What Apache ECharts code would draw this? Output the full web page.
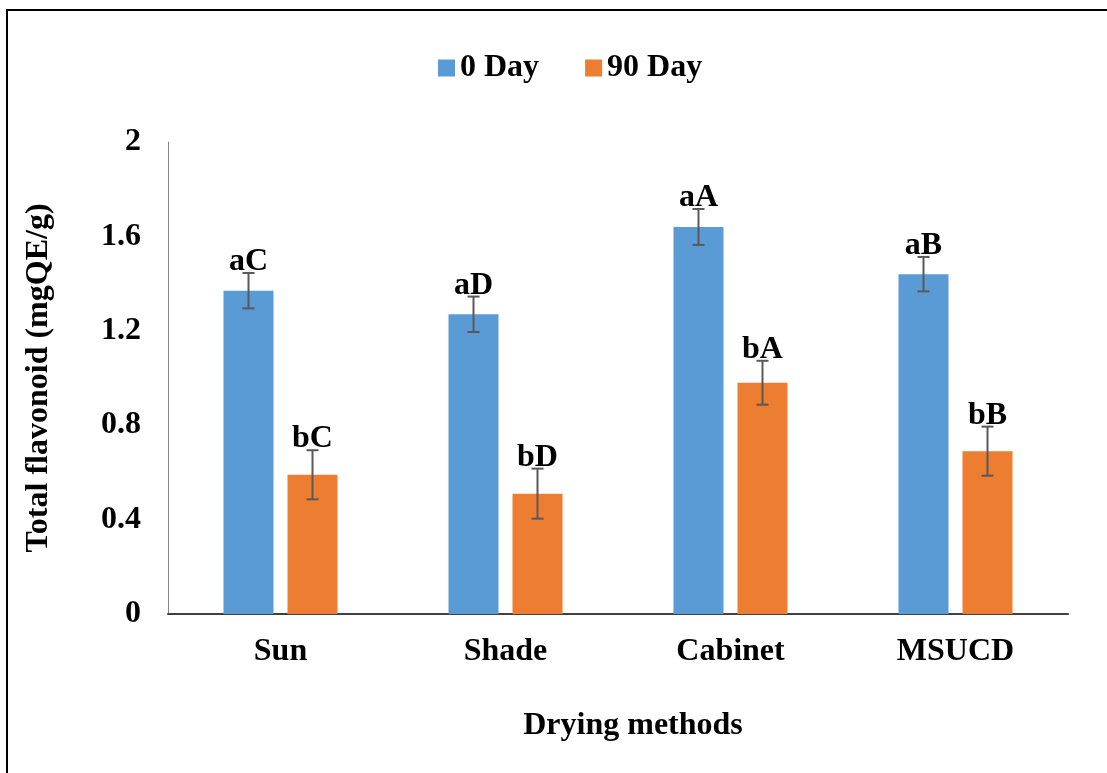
<!DOCTYPE html>
<html>
<head>
<meta charset="utf-8">
<script src="https://cdn.jsdelivr.net/npm/echarts@6/dist/echarts.min.js"></script>
<style>html,body{margin:0;padding:0;background:#fff;}#c{width:1107px;height:773px;}</style>
</head>
<body>
<div id="c"></div>
<script>
const categories = ['Sun', 'Shade', 'Cabinet', 'MSUCD'];
const seriesNames = ['0 Day', '90 Day'];
const day0 = [1.37, 1.27, 1.64, 1.44];
const day90 = [0.59, 0.51, 0.98, 0.69];
const err0 = [0.075, 0.075, 0.076, 0.073];
const err90 = [0.104, 0.106, 0.093, 0.104];
const letters0 = ['aC', 'aD', 'aA', 'aB'];
const letters90 = ['bC', 'bD', 'bA', 'bB'];

const FONT = '"Liberation Serif", "Times New Roman", serif';
const FS = 32;
const BAR_W = 50;
const GAP = 14;
const colors = ['#5B9BD5', '#ED7D31'];

function errSeries(vals, errs, letters, offset) {
  return {
    type: 'custom',
    z: 10,
    silent: true,
    data: vals.map((v, i) => [i, v, errs[i]]),
    renderItem: function (params, api) {
      const i = api.value(0), v = api.value(1), e = api.value(2);
      const top = api.coord([i, v + e]);
      const bot = api.coord([i, v - e]);
      const x = top[0] + offset;
      const cap = 6;
      const ls = { stroke: '#595959', lineWidth: 2 };
      return {
        type: 'group',
        children: [
          { type: 'line', shape: { x1: x, y1: top[1], x2: x, y2: bot[1] }, style: ls },
          { type: 'line', shape: { x1: x - cap, y1: top[1], x2: x + cap, y2: top[1] }, style: ls },
          { type: 'line', shape: { x1: x - cap, y1: bot[1], x2: x + cap, y2: bot[1] }, style: ls },
          { type: 'text', style: { text: letters[params.dataIndex], x: x, y: top[1] + 5, align: 'center', verticalAlign: 'bottom', font: 'bold ' + FS + 'px ' + FONT, fill: '#000' } }
        ]
      };
    }
  };
}

const txt = { fontFamily: FONT, fontWeight: 'bold', fontSize: FS, color: '#000' };

const chart = echarts.init(document.getElementById('c'));
chart.setOption({
  animation: false,
  backgroundColor: '#fff',
  graphic: [{
    type: 'rect', shape: { x: 7, y: 10, width: 1300, height: 900 },
    style: { fill: 'none', stroke: '#000', lineWidth: 2 }, z: 100
  }],
  legend: {
    data: seriesNames,
    top: 47,
    left: 433,
    itemWidth: 17, itemHeight: 17, itemGap: 46,
    icon: 'rect',
    textStyle: txt
  },
  grid: { left: 168, right: 39, top: 142, bottom: 159 },
  xAxis: {
    type: 'category',
    data: categories,
    axisLine: { lineStyle: { color: '#404040', width: 2 } },
    axisTick: { show: false },
    axisLabel: Object.assign({ margin: 22 }, txt),
    name: 'Drying methods',
    nameLocation: 'middle',
    nameGap: 96,
    nameTextStyle: Object.assign({ padding: [0, 0, 0, 30] }, txt)
  },
  yAxis: {
    type: 'value',
    min: 0, max: 2, interval: 0.4,
    axisLine: { show: true, lineStyle: { color: '#868686', width: 1 } },
    axisTick: { show: false },
    splitLine: { show: false },
    axisLabel: Object.assign({ margin: 27 }, txt),
    name: 'Total flavonoid (mgQE/g)',
    nameLocation: 'middle',
    nameGap: 113,
    nameTextStyle: txt
  },
  series: [
    { name: seriesNames[0], type: 'bar', data: day0, barWidth: BAR_W, barGap: (GAP / BAR_W * 100) + '%', itemStyle: { color: colors[0] } },
    { name: seriesNames[1], type: 'bar', data: day90, barWidth: BAR_W, itemStyle: { color: colors[1] } },
    errSeries(day0, err0, letters0, -(BAR_W + GAP) / 2),
    errSeries(day90, err90, letters90, (BAR_W + GAP) / 2)
  ]
});
</script>
</body>
</html>
